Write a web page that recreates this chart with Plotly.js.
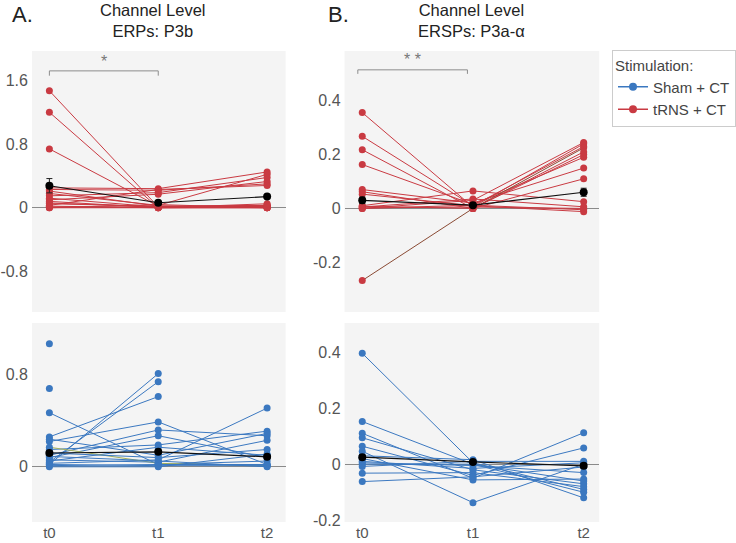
<!DOCTYPE html>
<html>
<head>
<meta charset="utf-8">
<script src="https://cdn.plot.ly/plotly-3.0.1.min.js"></script>
<style>
  html, body { margin: 0; padding: 0; background: #ffffff; }
  #chart { width: 736px; height: 543px; }
</style>
</head>
<body>
<div id="chart"></div>
<script>
// Time points shared by every panel
const timepoints = ['t0', 't1', 't2'];

// ERPs (P3b), tRNS + CT: one value per subject at each time point
const erpTrnsT0 = [1.47, 1.20, 0.74, 0.25, 0.23, 0.21, 0.18, 0.15, 0.12, 0.10, 0.08, 0.06, 0.05, 0.03, 0.02, 0.01, 0.00, 0.00];
const erpTrnsT1 = [0.01, 0.00, 0.02, 0.24, 0.22, 0.02, 0.03, 0.19, 0.01, 0.17, 0.00, 0.01, 0.02, 0.23, 0.00, 0.01, 0.04, 0.00];
const erpTrnsT2 = [0.02, 0.00, 0.01, 0.45, 0.30, 0.03, 0.42, 0.38, 0.01, 0.33, 0.00, 0.02, 0.00, 0.28, 0.01, 0.03, 0.00, 0.05];
const erpTrnsMean = [0.277, 0.063, 0.14];
const erpTrnsSem = [0.09, 0.015, 0.02];

// ERPs (P3b), Sham + CT (null = no recording at that time point)
const erpShamT0 = [1.07, 0.68, 0.47, 0.04, 0.02, 0.26, 0.22, 0.10, 0.08, 0.15, 0.05, 0.03, 0.17, 0.12, 0.06, 0.01, 0.00, 0.09, 0.02, 0.24];
const erpShamT1 = [null, null, 0.02, 0.74, 0.81, 0.61, 0.39, 0.32, 0.27, 0.19, 0.17, 0.06, 0.03, 0.08, 0.04, 0.02, 0.00, 0.05, 0.01, 0.10];
const erpShamT2 = [null, null, 0.05, null, null, null, 0.02, 0.27, 0.08, 0.31, 0.10, 0.51, 0.01, 0.15, 0.23, 0.02, 0.11, 0.00, 0.01, 0.29];
const erpShamMean = [0.12, 0.13, 0.087];
const erpShamSem = [0.015, 0.015, 0.012];

// ERSPs (P3a-alpha), tRNS + CT
const erspTrnsT0 = [0.356, 0.268, 0.218, 0.163, 0.070, 0.062, 0.053, 0.010, 0.005, 0.000, -0.268, 0.002, 0.008, 0.000];
const erspTrnsT1 = [0.005, 0.010, 0.000, 0.015, 0.020, 0.000, 0.010, 0.065, 0.035, 0.030, 0.000, 0.005, 0.000, 0.012];
const erspTrnsT2 = [0.240, 0.230, 0.200, 0.190, 0.150, 0.110, -0.012, 0.025, 0.006, 0.245, 0.225, 0.000, 0.210, -0.005];
const erspTrnsMean = [0.03, 0.012, 0.06];
const erspTrnsSem = [0.012, 0.008, 0.015];

// ERSPs (P3a-alpha), Sham + CT
const erspShamT0 = [0.395, 0.152, 0.110, 0.094, 0.064, 0.046, 0.030, 0.020, 0.005, -0.008, -0.032, -0.062, 0.000, 0.010];
const erspShamT1 = [0.005, 0.000, -0.050, -0.020, -0.040, -0.137, 0.016, -0.056, -0.005, 0.010, -0.030, -0.045, 0.000, -0.015];
const erspShamT2 = [-0.090, -0.100, 0.112, -0.070, 0.058, 0.000, -0.120, -0.053, -0.030, 0.010, -0.080, -0.010, -0.060, 0.005];
const erspShamMean = [0.025, 0.008, -0.006];
const erspShamSem = [0.008, 0.006, 0.008];

// Y-axis tick values and their printed labels
const erpTrnsTicks = [-0.8, 0, 0.8, 1.6];
const erpTrnsTickText = ['-0.8', '0', '0.8', '1.6'];
const erpShamTicks = [0, 0.8];
const erpShamTickText = ['0', '0.8'];
const erspTicks = [-0.2, 0, 0.2, 0.4];
const erspTickText = ['-0.2', '0', '0.2', '0.4'];

const RED = '#c93a42';
const BLUE = '#3b78c0';
const FONT = 'Liberation Sans, Arial, sans-serif';

const traces = [];

function addSubjects(t0, t1, t2, color, xa, ya, legendName, lineColors) {
  t0.forEach((v, i) => {
    traces.push({
      type: 'scatter', mode: 'lines+markers',
      x: timepoints, y: [t0[i], t1[i], t2[i]],
      xaxis: xa, yaxis: ya,
      line: { color: (lineColors && lineColors[i]) || color, width: 1 },
      marker: { color: color, size: 7 },
      name: legendName, legendgroup: legendName,
      showlegend: false, hoverinfo: 'skip', connectgaps: false
    });
  });
}

function addMean(mean, sem, xa, ya) {
  traces.push({
    type: 'scatter', mode: 'lines+markers',
    x: timepoints, y: mean, xaxis: xa, yaxis: ya,
    line: { color: '#111111', width: 1.2 },
    marker: { color: '#000000', size: 8 },
    error_y: { type: 'data', array: sem, visible: true, color: '#222222', thickness: 1, width: 3 },
    showlegend: false, hoverinfo: 'skip'
  });
}

addSubjects(erpTrnsT0, erpTrnsT1, erpTrnsT2, RED, 'x', 'y', 'tRNS + CT');
addMean(erpTrnsMean, erpTrnsSem, 'x', 'y');

const erspTrnsLines = {10: '#8a4a34'};
addSubjects(erspTrnsT0, erspTrnsT1, erspTrnsT2, RED, 'x2', 'y2', 'tRNS + CT', erspTrnsLines);
addMean(erspTrnsMean, erspTrnsSem, 'x2', 'y2');

const erpShamLines = {12: '#a4b05a'};
addSubjects(erpShamT0, erpShamT1, erpShamT2, BLUE, 'x3', 'y3', 'Sham + CT', erpShamLines);
addMean(erpShamMean, erpShamSem, 'x3', 'y3');

addSubjects(erspShamT0, erspShamT1, erspShamT2, BLUE, 'x4', 'y4', 'Sham + CT');
addMean(erspShamMean, erspShamSem, 'x4', 'y4');

// Legend entries (one per stimulation group)
traces.push({
  type: 'scatter', mode: 'lines+markers', x: [null], y: [null], xaxis: 'x', yaxis: 'y',
  name: 'Sham + CT', line: { color: BLUE, width: 1.5 }, marker: { color: BLUE, size: 8 },
  showlegend: true, legendrank: 1
});
traces.push({
  type: 'scatter', mode: 'lines+markers', x: [null], y: [null], xaxis: 'x', yaxis: 'y',
  name: 'tRNS + CT', line: { color: RED, width: 1.5 }, marker: { color: RED, size: 8 },
  showlegend: true, legendrank: 2
});

const W = 736, H = 543;
const px = v => v / W;
const py = v => 1 - v / H;

function xAxis(domain, range, showLabels, anchor) {
  return {
    domain: domain, anchor: anchor, type: 'category', categoryarray: timepoints, range: range,
    showgrid: false, zeroline: false, showline: false, ticks: '',
    showticklabels: showLabels, ticklabelstandoff: 0,
    tickfont: { family: FONT, size: 15, color: '#555555' }, fixedrange: true
  };
}
function yAxis(domain, range, tv, tt, anchor) {
  return {
    domain: domain, anchor: anchor, range: range, tickvals: tv, ticktext: tt,
    showgrid: false, showline: false, ticks: '', ticklabelstandoff: 3,
    zeroline: true, zerolinecolor: '#8a8a8a', zerolinewidth: 1,
    tickfont: { family: FONT, size: 16, color: '#555555' }, fixedrange: true
  };
}

const leftX = [px(32), px(286)];
const rightX = [px(345), px(600)];
const topY = [py(312), py(51)];
const botY = [py(522), py(323)];

const layout = {
  width: W, height: H,
  margin: { l: 0, r: 0, t: 0, b: 0 },
  paper_bgcolor: '#ffffff', plot_bgcolor: '#f4f4f4',
  font: { family: FONT, color: '#333333' },
  xaxis: xAxis(leftX, [-0.16, 2.17], false, 'y'),
  yaxis: yAxis(topY, [-1.31, 1.97], erpTrnsTicks, erpTrnsTickText, 'x'),
  xaxis2: xAxis(rightX, [-0.16, 2.14], false, 'y2'),
  yaxis2: yAxis(topY, [-0.385, 0.585], erspTicks, erspTickText, 'x2'),
  xaxis3: xAxis(leftX, [-0.16, 2.17], true, 'y3'),
  yaxis3: yAxis(botY, [-0.48, 1.25], erpShamTicks, erpShamTickText, 'x3'),
  xaxis4: xAxis(rightX, [-0.16, 2.14], true, 'y4'),
  yaxis4: yAxis(botY, [-0.206, 0.503], erspTicks, erspTickText, 'x4'),
  showlegend: true,
  legend: {
    x: px(613), y: py(50), xanchor: 'left', yanchor: 'top',
    bgcolor: '#ffffff', bordercolor: '#cccccc', borderwidth: 1,
    font: { family: FONT, size: 15, color: '#444444' },
    title: { text: 'Stimulation:', font: { family: FONT, size: 15, color: '#444444' } },
    traceorder: 'normal', itemwidth: 30
  },
  shapes: [
    // significance bracket, ERPs t0 vs t1
    { type: 'path', xref: 'x', yref: 'y', path: 'M 0,1.66 L 0,1.72 L 1,1.72 L 1,1.66',
      line: { color: '#8c8c8c', width: 1 } },
    // significance bracket, ERSPs t0 vs t1
    { type: 'path', xref: 'x2', yref: 'y2', path: 'M -0.04,0.50 L -0.04,0.515 L 0.95,0.515 L 0.95,0.50',
      line: { color: '#8c8c8c', width: 1 } }
  ],
  annotations: [
    { text: 'A.', xref: 'paper', yref: 'paper', x: px(10), y: py(0), xanchor: 'left', yanchor: 'top',
      showarrow: false, font: { family: FONT, size: 22, color: '#222222' } },
    { text: 'Channel Level<br>ERPs: P3b', xref: 'paper', yref: 'paper', x: px(153), y: py(-1), xanchor: 'center', yanchor: 'top',
      showarrow: false, font: { family: FONT, size: 16.5, color: '#222222' } },
    { text: 'B.', xref: 'paper', yref: 'paper', x: px(326), y: py(0), xanchor: 'left', yanchor: 'top',
      showarrow: false, font: { family: FONT, size: 22, color: '#222222' } },
    { text: 'Channel Level<br>ERSPs: P3a-α', xref: 'paper', yref: 'paper', x: px(472), y: py(-1), xanchor: 'center', yanchor: 'top',
      showarrow: false, font: { family: FONT, size: 16.5, color: '#222222' } },
    { text: '*', xref: 'x', yref: 'paper', x: 0.5, y: py(72), xanchor: 'center', yanchor: 'bottom',
      showarrow: false, font: { family: FONT, size: 16, color: '#777777' } },
    { text: '* *', xref: 'x2', yref: 'paper', x: 0.455, y: py(70), xanchor: 'center', yanchor: 'bottom',
      showarrow: false, font: { family: FONT, size: 16, color: '#777777' } }
  ]
};

Plotly.newPlot('chart', traces, layout, { staticPlot: true, displayModeBar: false });
</script>
</body>
</html>
